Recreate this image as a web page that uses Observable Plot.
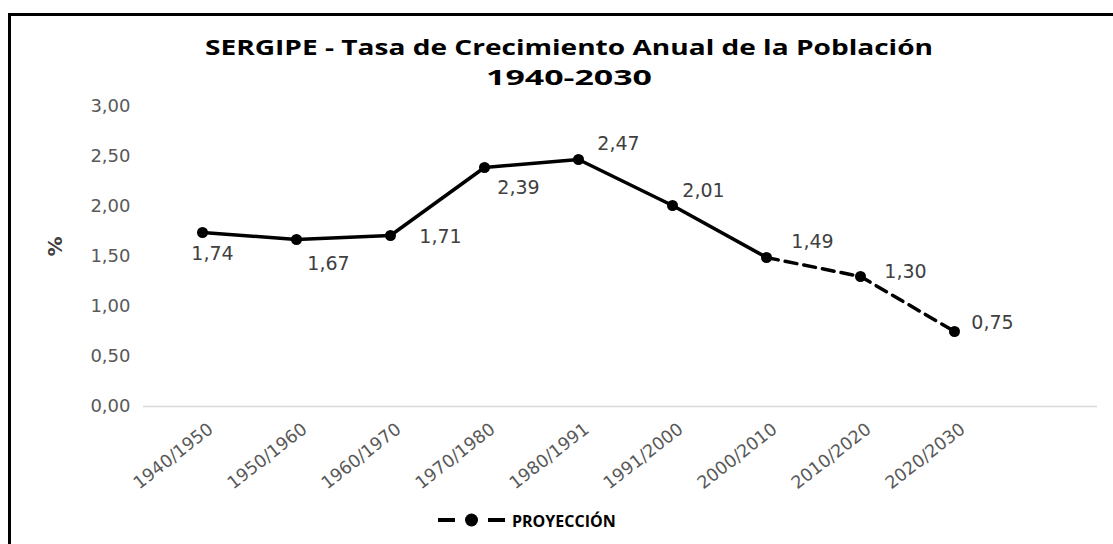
<!DOCTYPE html>
<html>
<head>
<meta charset="utf-8">
<script src="https://cdn.jsdelivr.net/npm/d3@7"></script>
<script src="https://cdn.jsdelivr.net/npm/@observablehq/plot@0.6"></script>
<style>
  html, body { margin: 0; padding: 0; background: #fff; overflow: hidden; }
  #wrap { position: relative; width: 1113px; height: 544px; overflow: hidden; }
  #border { position: absolute; left: 8px; top: 13px; width: 2000px; height: 1000px;
            border-left: 3px solid #000; border-top: 3px solid #000; box-sizing: border-box; }
  #chart { position: absolute; left: 0; top: 0; }
  .overlay { position: absolute; left: 0; top: 0; pointer-events: none; }
</style>
</head>
<body>
<div id="wrap">
  <div id="border"></div>
  <div id="chart"></div>
  <svg class="overlay" width="1113" height="544" id="titleSvg">
    <text id="t1" x="569" y="55" text-anchor="middle" font-family="Open Sans" font-weight="bold" font-size="22" fill="#000"
          textLength="728" lengthAdjust="spacingAndGlyphs"></text>
    <text id="t2" x="569" y="85" text-anchor="middle" font-family="Open Sans" font-weight="bold" font-size="22" fill="#000"
          textLength="166" lengthAdjust="spacingAndGlyphs"></text>
  </svg>
  <svg class="overlay" width="1113" height="544" id="legendSvg">
    <line x1="438" y1="520" x2="455" y2="520" stroke="#000" stroke-width="4"></line>
    <line x1="488" y1="520" x2="505" y2="520" stroke="#000" stroke-width="4"></line>
    <circle cx="471.5" cy="520" r="6.5" fill="#000"></circle>
    <text id="legTxt" x="512" y="527" font-family="Open Sans" font-weight="bold" font-size="16" fill="#000"></text>
  </svg>
</div>
<script>
// ---- data ----
const titleLine1 = "SERGIPE - Tasa de Crecimiento Anual de la Población";
const titleLine2 = "1940-2030";
const yLabel = "%";
const legendLabel = "PROYECCIÓN";
const periods = ["1940/1950","1950/1960","1960/1970","1970/1980","1980/1991","1991/2000","2000/2010","2010/2020","2020/2030"];
const rates = [1.74, 1.67, 1.71, 2.39, 2.47, 2.01, 1.49, 1.30, 0.75];
const lastObserved = "2000/2010";
const yTicks = [0, 0.5, 1, 1.5, 2, 2.5, 3];

// ---- layout/style (label offsets relative to each point) ----
const labelOffsets = [[10,21],[32,24],[50,1],[34,20],[40,-16],[31,-15],[46,-16],[45,-5],[38,-9]];

document.getElementById("t1").textContent = titleLine1;
document.getElementById("t2").textContent = titleLine2;
document.getElementById("legTxt").textContent = legendLabel;

const fmt = d => d.toFixed(2).replace(".", ",");
const data = periods.map((p, i) => ({period: p, rate: rates[i]}));
const split = periods.indexOf(lastObserved);
const observed = data.slice(0, split + 1);
const projected = data.slice(split);

const labelMarks = data.map((d, i) => Plot.text([d], {
  x: "period", y: "rate", text: e => fmt(e.rate),
  dx: labelOffsets[i][0], dy: labelOffsets[i][1],
  fontSize: 19, fill: "#404040", fontFamily: "DejaVu Sans"
}));

const chart = Plot.plot({
  width: 1113,
  height: 544,
  marginLeft: 143,
  marginRight: 16,
  marginTop: 106,
  marginBottom: 138,
  style: {background: "transparent", overflow: "visible"},
  x: {type: "point", domain: periods, range: [200, 955], padding: 0, axis: null},
  y: {domain: [0, 3]},
  marks: [
    Plot.ruleY([0], {stroke: "#d9d9d9", strokeWidth: 1.3}),
    Plot.axisY(yTicks, {tickSize: 0, tickPadding: 13, tickFormat: fmt, fontSize: 18,
      fontFamily: "DejaVu Sans", color: "#595959", label: null}),
    Plot.text([yLabel], {text: d => d, frameAnchor: "left", dx: -88, rotate: -90,
      fontSize: 20, fontWeight: "bold", fill: "#404040", fontFamily: "DejaVu Sans"}),
    Plot.text(periods, {x: d => d, text: d => d, frameAnchor: "bottom", rotate: -38,
      textAnchor: "end", lineAnchor: "top", dx: 4, dy: 15, fontSize: 17.5,
      fill: "#595959", fontFamily: "DejaVu Sans"}),
    Plot.line(observed, {x: "period", y: "rate", stroke: "#000", strokeWidth: 3.5}),
    Plot.line(projected, {x: "period", y: "rate", stroke: "#000", strokeWidth: 3.5, strokeDasharray: "12,7"}),
    Plot.dot(data, {x: "period", y: "rate", r: 5.5, fill: "#000"}),
    ...labelMarks
  ]
});
document.getElementById("chart").appendChild(chart);
</script>
</body>
</html>
